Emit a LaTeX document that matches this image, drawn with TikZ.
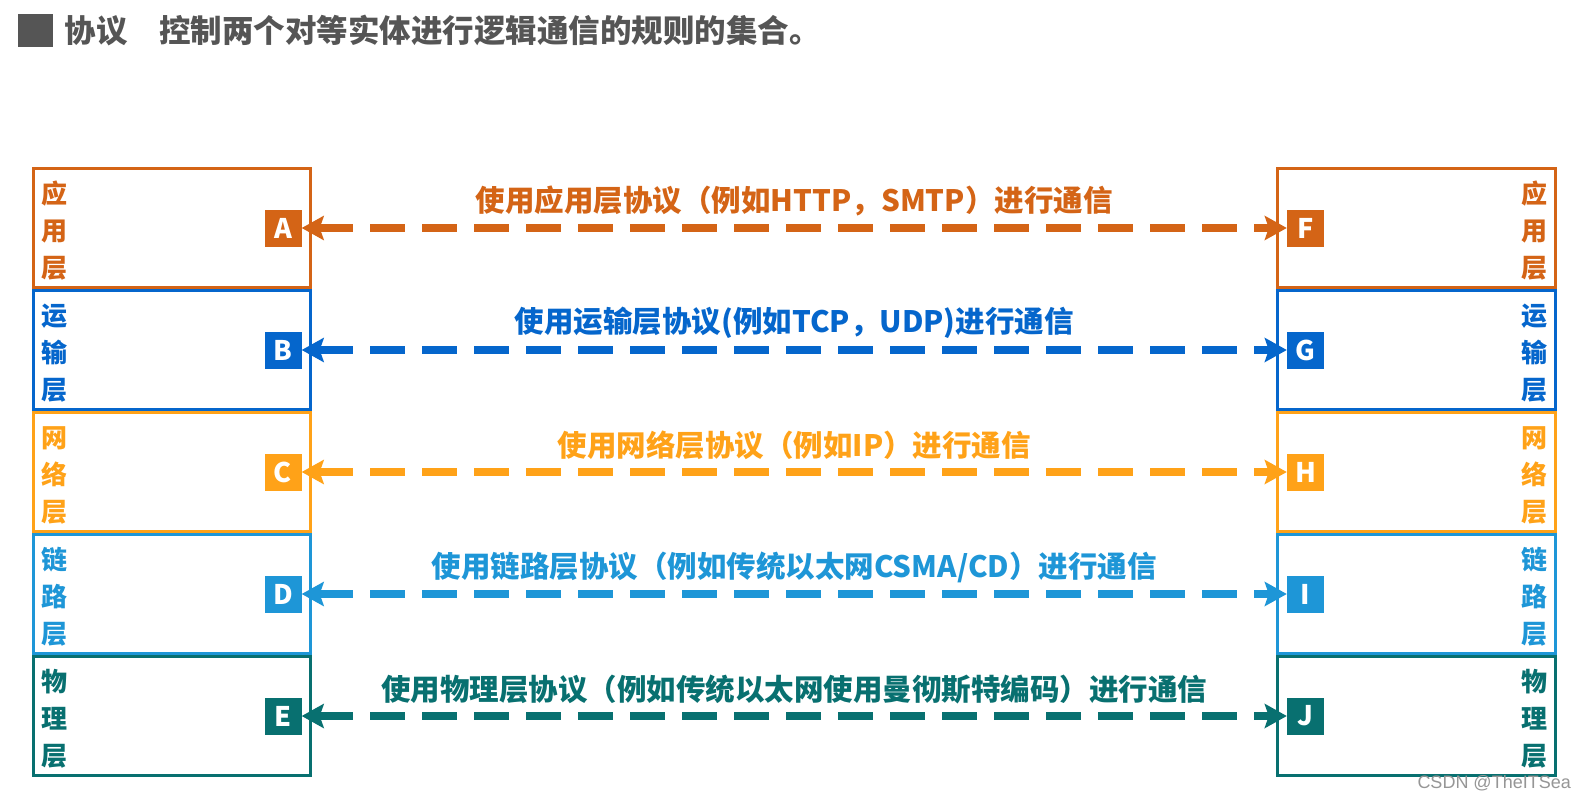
\documentclass[tikz,border=0pt]{standalone}
\usepackage{fontspec}
\setmainfont{Noto Sans CJK SC}
\newfontfamily\wmfont{Liberation Sans}
\usetikzlibrary{arrows.meta,positioning}
\definecolor{titlec}{RGB}{85,85,85}
\definecolor{appc}{RGB}{212,100,22}
\definecolor{trnc}{RGB}{5,102,204}
\definecolor{netc}{RGB}{255,162,24}
\definecolor{lnkc}{RGB}{30,150,215}
\definecolor{phyc}{RGB}{8,112,112}
\definecolor{wmc}{RGB}{150,150,150}
\tikzset{
  layerbox/.style={draw=#1, line width=3pt, minimum width=277pt, minimum height=119pt, inner sep=0pt},
  layername/.style={text=#1, align=center, inner sep=0pt, font=\bfseries\fontsize{26}{37}\selectfont},
  letterbox/.style={fill=#1, minimum size=37pt, inner sep=0pt, text=white, font=\bfseries\fontsize{27}{27}\selectfont},
  protoarrow/.style={draw=#1, line width=8pt, dash pattern=on 35pt off 17pt,
    {Stealth[length=22pt,width=24pt,inset=4pt]}-{Stealth[length=22pt,width=24pt,inset=4pt]}},
  protolabel/.style={text=#1, yshift=27pt, inner sep=0pt, font=\bfseries\fontsize{29.5}{29.5}\selectfont},
}
\begin{document}
\begin{tikzpicture}[x=1pt,y=-1pt]
  \useasboundingbox[fill=white] (0,0) rectangle (1584,800);
  % title
  \node[fill=titlec, minimum width=35pt, minimum height=33pt, inner sep=0pt] (mark) at (35.5,30.5) {};
  \node[right=11.5pt of mark, text=titlec, inner sep=0pt, font=\bfseries\fontsize{31.5}{31.5}\selectfont] (title) {协议\hspace{1em}控制两个对等实体进行逻辑通信的规则的集合。};
  % left stack
  \node[layerbox=appc] (appL) at (172,228) {};
  \node[layerbox=trnc] (trnL) at (172,350) {};
  \node[layerbox=netc] (netL) at (172,472) {};
  \node[layerbox=lnkc] (lnkL) at (172,594) {};
  \node[layerbox=phyc] (phyL) at (172,716) {};
  \node[layername=appc] at ([xshift=22.5pt,yshift=-3pt]appL.west) {应\\用\\层};
  \node[layername=trnc] at ([xshift=22.5pt,yshift=-3pt]trnL.west) {运\\输\\层};
  \node[layername=netc] at ([xshift=22.5pt,yshift=-3pt]netL.west) {网\\络\\层};
  \node[layername=lnkc] at ([xshift=22.5pt,yshift=-3pt]lnkL.west) {链\\路\\层};
  \node[layername=phyc] at ([xshift=22.5pt,yshift=-3pt]phyL.west) {物\\理\\层};
  \node[letterbox=appc] (A) at (283,228) {A};
  \node[letterbox=trnc] (B) at (283,350) {B};
  \node[letterbox=netc] (C) at (283,472) {C};
  \node[letterbox=lnkc] (D) at (283,594) {D};
  \node[letterbox=phyc] (E) at (283,716) {E};
  % right stack
  \node[layerbox=appc, minimum width=278pt] (appR) at (1416.5,228) {};
  \node[layerbox=trnc, minimum width=278pt] (trnR) at (1416.5,350) {};
  \node[layerbox=netc, minimum width=278pt] (netR) at (1416.5,472) {};
  \node[layerbox=lnkc, minimum width=278pt] (lnkR) at (1416.5,594) {};
  \node[layerbox=phyc, minimum width=278pt] (phyR) at (1416.5,716) {};
  \node[layername=appc] at ([xshift=-22.5pt,yshift=-3pt]appR.east) {应\\用\\层};
  \node[layername=trnc] at ([xshift=-22.5pt,yshift=-3pt]trnR.east) {运\\输\\层};
  \node[layername=netc] at ([xshift=-22.5pt,yshift=-3pt]netR.east) {网\\络\\层};
  \node[layername=lnkc] at ([xshift=-22.5pt,yshift=-3pt]lnkR.east) {链\\路\\层};
  \node[layername=phyc] at ([xshift=-22.5pt,yshift=-3pt]phyR.east) {物\\理\\层};
  \node[letterbox=appc] (F) at (1305.5,228) {F};
  \node[letterbox=trnc] (G) at (1305.5,350) {G};
  \node[letterbox=netc] (H) at (1305.5,472) {H};
  \node[letterbox=lnkc] (I) at (1305.5,594) {I};
  \node[letterbox=phyc] (J) at (1305.5,716) {J};
  % peer protocols
  \draw[protoarrow=appc] (A) -- node[protolabel=appc] (appP) {使用应用层协议（例如HTTP，SMTP）进行通信} (F);
  \draw[protoarrow=trnc] (B) -- node[protolabel=trnc] (trnP) {使用运输层协议(例如TCP，UDP)进行通信} (G);
  \draw[protoarrow=netc] (C) -- node[protolabel=netc] (netP) {使用网络层协议（例如IP）进行通信} (H);
  \draw[protoarrow=lnkc] (D) -- node[protolabel=lnkc] (lnkP) {使用链路层协议（例如传统以太网CSMA/CD）进行通信} (I);
  \draw[protoarrow=phyc] (E) -- node[protolabel=phyc] (phyP) {使用物理层协议（例如传统以太网使用曼彻斯特编码）进行通信} (J);
  \node[anchor=east, inner sep=0pt, text=wmc, font=\wmfont\fontsize{18}{18}\selectfont] (wm) at (1571,783) {CSDN @TheITSea};
\end{tikzpicture}
\end{document}
